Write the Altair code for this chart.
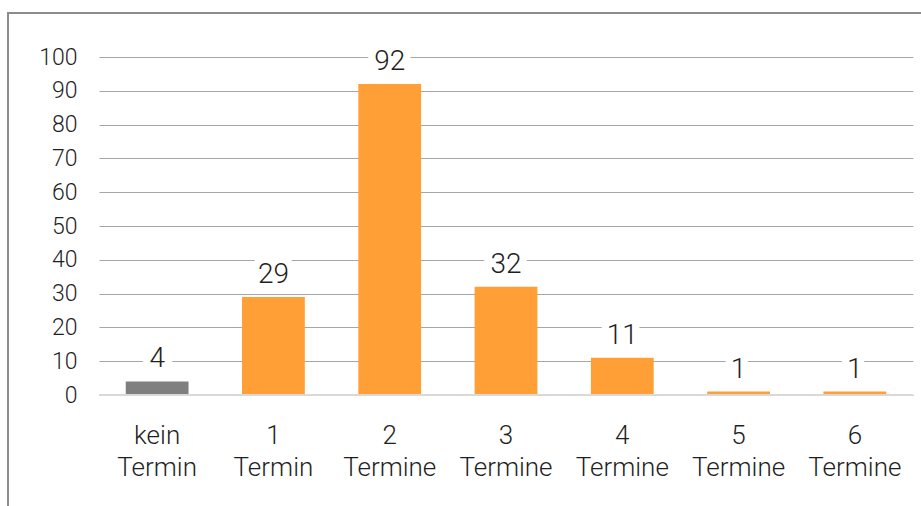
import altair as alt
import pandas as pd

# Anzahl der Personen nach Zahl der wahrgenommenen Termine
categories = ["kein\nTermin", "1\nTermin", "2\nTermine", "3\nTermine",
              "4\nTermine", "5\nTermine", "6\nTermine"]
counts = [4, 29, 92, 32, 11, 1, 1]
groups = ["none", "some", "some", "some", "some", "some", "some"]
y_ticks = [0, 10, 20, 30, 40, 50, 60, 70, 80, 90, 100]

df = pd.DataFrame({"kategorie": categories, "anzahl": counts, "gruppe": groups})

FONT = "Roboto"
WEIGHT = 300
TEXT = "#1f1f1f"
W, H = 814, 338

x_axis = alt.Axis(
    labelExpr="split(datum.label, '\\n')",
    labelAngle=0,
    labelFont=FONT,
    labelFontWeight=WEIGHT,
    labelFontSize=26,
    labelColor=TEXT,
    labelLineHeight=32,
    labelPadding=27,
    labelBaseline="top",
    labelOverlap=False,
    domain=False,
    ticks=False,
    grid=False,
)
y_axis = alt.Axis(
    values=y_ticks,
    labelFont=FONT,
    labelFontWeight=WEIGHT,
    labelFontSize=23,
    labelColor=TEXT,
    labelPadding=22,
    labelBaseline="middle",
    labelOverlap=False,
    labelFlush=False,
    domain=False,
    ticks=False,
    grid=True,
    gridColor="#a6a6a6",
    gridWidth=1.2,
)
x_scale = alt.Scale(paddingInner=0.46, paddingOuter=0.23)
y_scale = alt.Scale(domain=[0, 100], nice=False)

x_enc = alt.X("kategorie:N", sort=categories, title=None, scale=x_scale, axis=x_axis)
y_enc = alt.Y("anzahl:Q", title=None, scale=y_scale, axis=y_axis)

bars = alt.Chart(df).mark_bar().encode(
    x=x_enc,
    y=y_enc,
    color=alt.Color(
        "gruppe:N",
        scale=alt.Scale(domain=["none", "some"], range=["#7f7f7f", "#ff9f35"]),
        legend=None,
    ),
)

# lighter baseline at zero
baseline = alt.Chart(pd.DataFrame({"anzahl": [0]})).mark_rule(
    color="#d9d9d9", strokeWidth=2
).encode(y=y_enc)

# value labels with a white backing so gridlines stop around them
label_base = alt.Chart(df).encode(
    x=x_enc,
    y=y_enc,
    text=alt.Text("anzahl:Q"),
)
halo = label_base.mark_text(
    font=FONT, fontWeight=WEIGHT, fontSize=28, baseline="alphabetic", dy=-14,
    stroke="white", strokeWidth=15, color="white",
)
labels = label_base.mark_text(
    font=FONT, fontWeight=WEIGHT, fontSize=28, baseline="alphabetic", dy=-14,
    color=TEXT,
)

# outer frame line along the left and top edges
frame_top = alt.Chart(pd.DataFrame({"v": [0]})).mark_rule(
    color="#8c8c8c", strokeWidth=2, clip=False
).encode(x=alt.value(-91), x2=alt.value(830), y=alt.value(-44))
frame_left = alt.Chart(pd.DataFrame({"v": [0]})).mark_rule(
    color="#8c8c8c", strokeWidth=2, clip=False
).encode(x=alt.value(-91), y=alt.value(-45), y2=alt.value(460))

chart = (
    alt.layer(bars, baseline, halo, labels, frame_top, frame_left)
    .properties(
        width=W,
        height=H,
        autosize=alt.AutoSizeParams(type="none"),
        padding={"left": 99, "top": 57, "right": 8, "bottom": 111},
        background="white",
    )
    .configure_view(stroke=None)
)

chart.save("out.html", embed_options={"renderer": "svg", "actions": False})
